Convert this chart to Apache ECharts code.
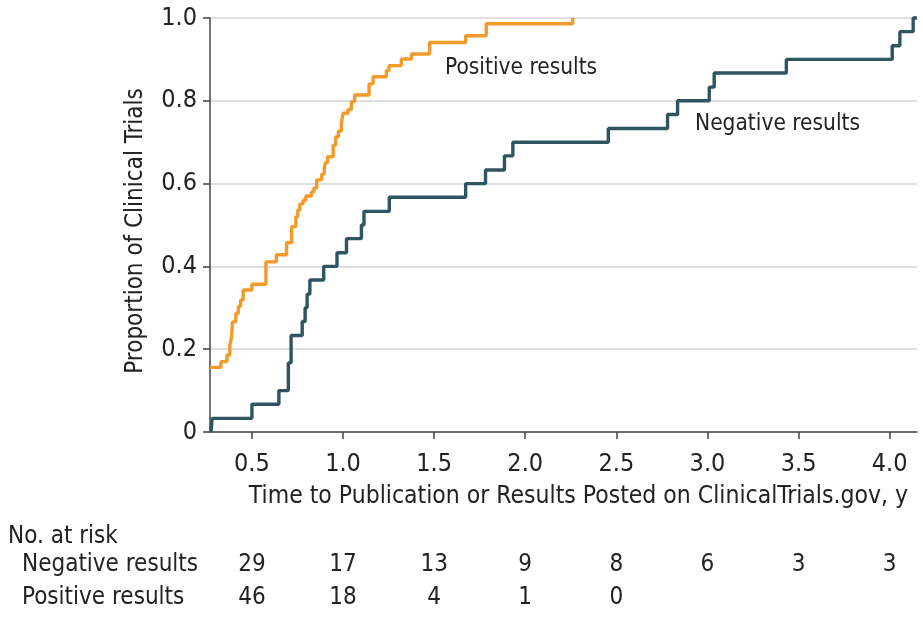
<!DOCTYPE html>
<html><head><meta charset="utf-8">
<script src="https://cdn.jsdelivr.net/npm/echarts@6/dist/echarts.min.js"></script>
<style>html,body{margin:0;padding:0;background:#fff}#c{width:923px;height:617px}</style>
</head><body><div id="c"></div>
<script>
// Kaplan-Meier style cumulative proportions, [time (y), proportion]
const negativeX = [0.275,0.282,0.500,0.648,0.700,0.715,0.776,0.792,0.803,0.818,0.894,0.967,1.019,1.101,1.115,1.254,1.673,1.782,1.886,1.932,2.456,2.781,2.836,3.010,3.037,3.433,4.014,4.056,4.129,4.150];
const negativeY = [0,0.033,0.067,0.100,0.167,0.233,0.267,0.300,0.333,0.367,0.400,0.433,0.467,0.500,0.533,0.567,0.600,0.633,0.667,0.700,0.733,0.767,0.800,0.833,0.867,0.900,0.933,0.967,1.000,1.000];
const positiveX = [0.270,0.330,0.363,0.379,0.389,0.393,0.412,0.426,0.438,0.452,0.500,0.577,0.634,0.690,0.718,0.741,0.752,0.763,0.781,0.796,0.827,0.840,0.856,0.883,0.897,0.904,0.916,0.946,0.960,0.975,0.991,1.000,1.028,1.046,1.064,1.143,1.165,1.238,1.252,1.320,1.375,1.475,1.673,1.786,2.261];
const positiveY = [0.156,0.170,0.186,0.210,0.230,0.266,0.287,0.304,0.319,0.343,0.357,0.411,0.428,0.457,0.496,0.520,0.536,0.551,0.560,0.570,0.580,0.589,0.609,0.623,0.637,0.651,0.665,0.693,0.713,0.727,0.746,0.770,0.779,0.798,0.814,0.841,0.858,0.873,0.885,0.901,0.913,0.941,0.957,0.986,1.000];
const tickValues = [0.5,1.0,1.5,2.0,2.5,3.0,3.5,4.0];
const yTicks = [0,0.2,0.4,0.6,0.8,1.0];
const atRiskNeg = [29,17,13,9,8,6,3,3];
const atRiskPos = [46,18,4,1,0];
const seriesNames = ['Negative results','Positive results'];

const FONT = '"DejaVu Sans Condensed","Liberation Sans Narrow","Noto Sans",sans-serif';
const TXT = '#222';
const FS = 25;
const chart = echarts.init(document.getElementById('c'), null, {renderer:'canvas'});
const zip = (xs, ys) => xs.map((x,i)=>[x, ys[i]]);
chart.setOption({
  animation:false,
  textStyle:{fontFamily:FONT},
  grid:{left:210,right:6,top:18,bottom:185,containLabel:false},
  xAxis:{type:'value',min:0.27,max:4.15,
    axisLine:{lineStyle:{color:'#444',width:1.5}},
    axisTick:{show:true,length:7,customValues:tickValues,lineStyle:{color:'#444',width:1.5}},
    axisLabel:{customValues:tickValues,formatter:v=>v.toFixed(1),fontSize:FS,color:TXT,margin:20,fontFamily:FONT},
    splitLine:{show:false}},
  yAxis:{type:'value',min:0,max:1,
    axisLine:{show:true,lineStyle:{color:'#444',width:1.5}},
    axisTick:{show:true,inside:false,length:7,customValues:yTicks,lineStyle:{color:'#444',width:1.5}},
    axisLabel:{customValues:yTicks,formatter:v=>v===0?'0':v.toFixed(1),fontSize:FS,color:TXT,margin:13,fontFamily:FONT},
    splitLine:{show:true,lineStyle:{color:'#d4d4d4',width:1.5}},
    name:'Proportion of Clinical Trials',nameLocation:'middle',nameGap:62,nameRotate:90,
    nameTextStyle:{fontSize:24,color:TXT,fontFamily:FONT,padding:[0,12,0,0]}},
  series:[
    {name:seriesNames[0],type:'line',step:'end',data:zip(negativeX,negativeY),showSymbol:false,clip:false,
      lineStyle:{color:'#2f5562',width:3.4},itemStyle:{color:'#2f5562'}},
    {name:seriesNames[1],type:'line',step:'end',data:zip(positiveX,positiveY),showSymbol:false,clip:false,
      lineStyle:{color:'#f29a2a',width:3.4},itemStyle:{color:'#f29a2a'}}
  ]
});
const px = v => chart.convertToPixel({xAxisIndex:0}, v);
const g = [];
const txt = (x,y,t,align,fs) => g.push({type:'text',x:x,y:y,style:{text:String(t),fontSize:fs||FS,fill:TXT,fontFamily:FONT,align:align||'left',verticalAlign:'middle'}});
txt(908,497,'Time to Publication or Results Posted on ClinicalTrials.gov, y','right',24.5);
txt(445,68,seriesNames[1],'left',22.5);
txt(695,124,seriesNames[0],'left',22.5);
txt(8,537,'No. at risk','left',24);
txt(22,565,seriesNames[0],'left',24);
txt(22,598,seriesNames[1],'left',24);
atRiskNeg.forEach((n,i)=>txt(px(tickValues[i]),565,n,'center',24));
atRiskPos.forEach((n,i)=>txt(px(tickValues[i]),598,n,'center',24));
chart.setOption({graphic:{elements:g}});
</script></body></html>
